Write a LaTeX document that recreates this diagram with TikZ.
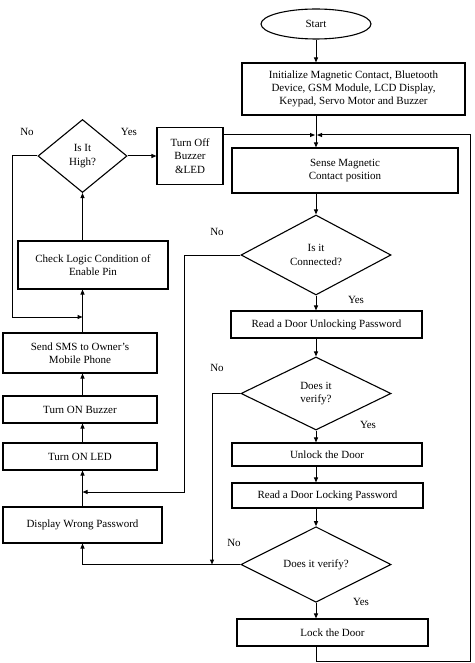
\documentclass[tikz,border=0pt]{standalone}
\usepackage{fontspec}
\setmainfont{Liberation Serif}
\usetikzlibrary{shapes.geometric,arrows.meta}
\begin{document}
\begin{tikzpicture}[x=1pt,y=-1pt,
  font=\fontsize{11}{13.3}\selectfont,
  every node/.style={inner sep=1pt},
  box/.style={draw,line width=1.1pt,rectangle,align=center,inner sep=0pt},
  dia/.style={draw,line width=1.1pt,diamond,align=center,inner sep=0pt},
  lbl/.style={inner sep=0pt},
  flow/.style={line width=1pt},
  arr/.style={flow,-{Triangle[length=5pt,width=4pt]}}]
\useasboundingbox (0,0) rectangle (474,663);
% nodes
\node[draw,line width=1.1pt,ellipse,minimum width=110,minimum height=30,inner sep=0pt] (start) at (316,24) {Start};
\node[box,minimum width=223,minimum height=52] (init) at (353.5,89) {Initialize Magnetic Contact, Bluetooth\\Device, GSM Module, LCD Display,\\Keypad, Servo Motor and Buzzer};
\node[box,minimum width=66,minimum height=57] (turnoff) at (190,156) {Turn Off\\Buzzer\\\&LED};
\node[box,minimum width=226,minimum height=45] (sense) at (345,170.5) {Sense Magnetic\\Contact position};
\node[dia,minimum width=89,minimum height=73] (high) at (82.5,156) {Is It\\High?};
\node[box,minimum width=150,minimum height=48] (check) at (93,265) {Check Logic Condition of\\Enable Pin};
\node[box,minimum width=154,minimum height=40] (sms) at (80,353) {Send SMS to Owner's\\Mobile Phone};
\node[box,minimum width=154,minimum height=27] (buzzer) at (80,409.5) {Turn ON Buzzer};
\node[box,minimum width=154,minimum height=27] (led) at (80,456.5) {Turn ON LED};
\node[box,minimum width=159,minimum height=36] (wrong) at (82.5,525) {Display Wrong Password};
\node[dia,minimum width=150,minimum height=80] (conn) at (316,255) {Is it\\Connected?};
\node[box,minimum width=191,minimum height=27] (unlockpw) at (326.5,324.5) {Read a Door Unlocking Password};
\node[dia,minimum width=150,minimum height=73] (ver1) at (316,393.5) {Does it\\verify?};
\node[box,minimum width=190,minimum height=23] (unlock) at (327,454.5) {Unlock the Door};
\node[box,minimum width=191,minimum height=25] (lockpw) at (327.5,495.5) {Read a Door Locking Password};
\node[dia,minimum width=150,minimum height=75] (ver2) at (316,564.5) {Does it verify?};
\node[box,minimum width=191,minimum height=27] (lock) at (332.5,632.5) {Lock the Door};
% helper coordinates
\coordinate (jn) at (316,135);
\coordinate (bot) at (316,661);
\coordinate (rt) at (470,661);
\coordinate (lc) at (82.5,0);
\coordinate (c1) at (184,492);
\coordinate (c2) at (212,564.5);
\coordinate (c3) at (12,317);
% main column
\draw[arr] (start.south) -- (start.south |- init.north);
\draw[arr] (init.south -| jn) -- (sense.north -| jn);
\draw[arr] (turnoff.east |- jn) -- ([xshift=-1]jn);
\draw[arr] (lock.south -| jn) -- (bot) -- (rt) -- (rt |- jn) -- ([xshift=1]jn);
\draw[arr] (sense.south -| conn) -- (conn.north);
\draw[arr] (conn.south) -- (conn.south |- unlockpw.north);
\draw[arr] (unlockpw.south -| ver1) -- (ver1.north);
\draw[arr] (ver1.south) -- (ver1.south |- unlock.north);
\draw[arr] (unlock.south -| ver1) -- (lockpw.north -| ver1);
\draw[arr] (lockpw.south -| ver2) -- (ver2.north);
\draw[arr] (ver2.south) -- (ver2.south |- lock.north);
% no branches
\draw[arr] (conn.west) -| (c1) -- (c1 -| lc);
\draw[arr] (ver1.west) -| (c2);
\draw[arr] (ver2.west) -- (ver2.west -| lc) -- (wrong.south -| lc);
% left column
\draw[arr] (wrong.north -| lc) -- (led.south -| lc);
\draw[arr] (led.north -| lc) -- (buzzer.south -| lc);
\draw[arr] (buzzer.north -| lc) -- (sms.south -| lc);
\draw[arr] (sms.north -| lc) -- (check.south -| lc);
\draw[arr] (check.north -| high) -- (high.south);
\draw[arr] (high.west) -- (high.west -| c3) -- (c3) -- (c3 -| lc);
\draw[arr] (high.east) -- (turnoff.west);
% labels
\node[lbl] (l1) at (27,132) {No};
\node[lbl] (l2) at (129,132) {Yes};
\node[lbl] (l3) at (217,232) {No};
\node[lbl] (l4) at (356,300) {Yes};
\node[lbl] (l5) at (217,368) {No};
\node[lbl] (l6) at (368,425) {Yes};
\node[lbl] (l7) at (234,543) {No};
\node[lbl] (l8) at (361,602) {Yes};
\end{tikzpicture}
\end{document}
